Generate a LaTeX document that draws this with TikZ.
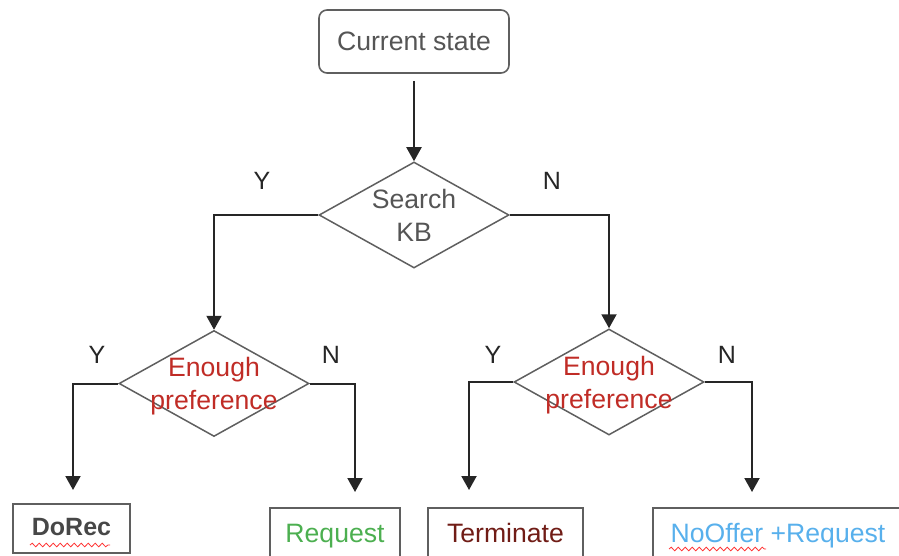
\documentclass[tikz,border=0pt]{standalone}
\usepackage{fontspec}
\setmainfont{Liberation Sans}
\usepackage{xcolor}
\usetikzlibrary{shapes.geometric,arrows.meta,decorations.pathmorphing}
\definecolor{boxgray}{HTML}{5F5F5F}
\definecolor{txtgray}{HTML}{555555}
\definecolor{prefred}{RGB}{192,44,38}
\definecolor{reqgreen}{RGB}{76,175,80}
\definecolor{termred}{RGB}{112,28,22}
\definecolor{offerblue}{RGB}{88,176,236}

\begin{document}
\begin{tikzpicture}[x=0.5pt,y=-0.5pt,
  every node/.style={font=\fontsize{13.3}{16.5}\selectfont},
  state/.style={draw=boxgray,line width=0.8pt,rounded corners=4pt,minimum width=95pt,minimum height=31.5pt,text=txtgray},
  decision/.style={draw=boxgray,line width=0.75pt,shape=diamond,minimum width=95pt,minimum height=53pt,inner sep=0pt},
  outcome/.style={draw=boxgray,line width=0.75pt,minimum height=25pt,inner sep=0pt,text height=10pt,text depth=1pt},
  flow/.style={draw=black!85,line width=1pt,-{Triangle[width=7.5pt,length=7pt]}},
  yn/.style={font=\fontsize{12.5}{14}\selectfont,text=black!85},
  squiggle/.style={draw=red!80,line width=0.4pt,decorate,decoration={snake,amplitude=0.9pt,segment length=3.5pt}}]
\useasboundingbox (0,0) rectangle (899,556);
\clip (0,0) rectangle (899,556);

\node[state] (cur) at (414,41.5) {Current state};
\node[decision,label={[text=txtgray,align=center]center:Search\\KB}] (kb) at (414,215) {};
\node[decision,label={[text=prefred,align=center,yshift=-1.5pt]center:Enough\\preference}] (ep1) at (214,383.5) {};
\node[decision,label={[text=prefred,align=center,yshift=-1.5pt]center:Enough\\preference}] (ep2) at (609,382) {};

\node[outcome,minimum width=58.5pt,minimum height=24.5pt,text=black!72,font=\fontsize{12.5}{15}\selectfont\bfseries,text height=9.5pt,text depth=2.5pt] (dorec) at (71.5,528.5) {DoRec};
\node[outcome,minimum width=65pt,text=reqgreen] (req) at (335,533) {Request};
\node[outcome,minimum width=77.5pt,text=termred] (term) at (505.5,533) {Terminate};
\node[outcome,minimum width=125pt,text=offerblue] (offer) at (778,533) {NoOffer +Request};

\coordinate (dorecin) at (73,490);
\coordinate (reqin) at (355,492);
\coordinate (termin) at (469,490);
\coordinate (offerin) at (752,492);

\draw[flow,shorten <=3.5pt] (cur) -- (kb);
\draw[flow] (kb.west) -| (ep1.north);
\draw[flow] (kb.east) -| (ep2.north);
\draw[flow] (ep1.west) -| (dorecin);
\draw[flow] (ep1.east) -| (reqin);
\draw[flow] (ep2.west) -| (termin);
\draw[flow] (ep2.east) -| (offerin);

\node[yn] (y1) at (262,181) {Y};
\node[yn] (n1) at (552,181) {N};
\node[yn] (y2) at (97,355) {Y};
\node[yn] (n2) at (331,355) {N};
\node[yn] (y3) at (493,355) {Y};
\node[yn] (n3) at (727,355) {N};

% spell-check marks
\draw[squiggle] (30,545) -- (110,545);
\draw[squiggle] (669,549) -- (766,549);
\end{tikzpicture}
\end{document}
